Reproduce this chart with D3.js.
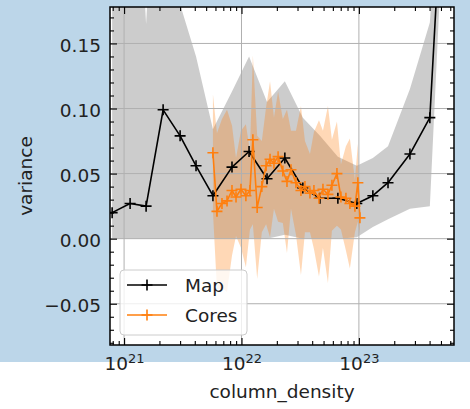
<!DOCTYPE html>
<html>
<head>
<meta charset="utf-8">
<script src="https://cdn.jsdelivr.net/npm/d3@7"></script>
<style>
  html, body { margin: 0; padding: 0; background: #ffffff; }
  svg { display: block; font-family: "DejaVu Sans", sans-serif; }
</style>
</head>
<body>
<svg id="chart" width="470" height="409"></svg>
<script>
// Variance against column density for the whole map and for the cores.
const mapDensity  = [7.91e20, 1.125e21, 1.54e21, 2.15e21, 3.0e21, 4.1e21, 5.71e21, 8.3e21,
                     1.16e22, 1.65e22, 2.34e22, 3.33e22, 4.66e22, 6.62e22, 9.6e22,
                     1.315e23, 1.77e23, 2.72e23, 4.02e23, 5.6e23];
const mapVariance = [0.020, 0.027, 0.025, 0.099, 0.079, 0.056, 0.033, 0.055, 0.067, 0.046,
                     0.062, 0.039, 0.031, 0.031, 0.027, 0.033, 0.043, 0.065, 0.093, 0.33];
const mapUpper    = [0.30, 0.38, 0.165, 0.40, 0.18, 0.14, 0.084, 0.113, 0.140, 0.105,
                     0.121, 0.093, 0.079, 0.063, 0.056, 0.062, 0.071, 0.115, 0.166, 0.36];
const mapLower    = [0, 0, 0, 0, 0, 0, 0, 0, 0, 0,
                     0.003, 0, 0, 0, 0.001, 0.009, 0.015, 0.023, 0.025, 0.30];

const coreDensity  = [5.71e21, 6.18e21, 6.82e21, 7.53e21, 8.30e21, 8.98e21, 9.9e21, 1.09e22,
                      1.18e22, 1.25e22, 1.36e22, 1.49e22, 1.62e22, 1.75e22, 1.89e22, 2.05e22,
                      2.25e22, 2.44e22, 2.64e22, 2.91e22, 3.21e22, 3.47e22, 3.83e22, 4.14e22,
                      4.57e22, 4.94e22, 5.45e22, 5.89e22, 6.50e22, 7.03e22, 7.75e22, 8.38e22,
                      9.25e22, 9.80e22, 1.02e23];
const coreVariance = [0.066, 0.021, 0.027, 0.029, 0.037, 0.032, 0.038, 0.033, 0.037, 0.076,
                      0.024, 0.040, 0.056, 0.061, 0.058, 0.063, 0.052, 0.044, 0.053, 0.043,
                      0.037, 0.040, 0.035, 0.037, 0.031, 0.038, 0.034, 0.041, 0.050, 0.032,
                      0.031, 0.027, 0.025, 0.043, 0.016];
const coreSpread   = [0.045, 0.060, 0.065, 0.070, 0.050, 0.030, 0.045, 0.055, 0.030, 0.065,
                      0.055, 0.035, 0.045, 0.060, 0.035, 0.050, 0.040, 0.055, 0.030, 0.040,
                      0.065, 0.035, 0.030, 0.045, 0.060, 0.045, 0.068, 0.035, 0.040, 0.025,
                      0.040, 0.050, 0.020, 0.030, 0.012];

const yTicks = [-0.05, 0.00, 0.05, 0.10, 0.15];
const yTickLabels = ["\u22120.05", "0.00", "0.05", "0.10", "0.15"];
const xTickExponents = [21, 22, 23];
const seriesNames = ["Map", "Cores"];
const xLabel = "column_density";
const yLabel = "variance";

// ---- layout ----
const W = 470, H = 409;
const L = 110, R = 454, T = 7, B = 345;
const FONT = 18.5;
const BLACK = "#000000", ORANGE = "#ff7f0e";

const svg = d3.select("#chart");

// figure background: tinted panel with a white strip underneath
svg.append("rect").attr("x", 0).attr("y", 0).attr("width", W).attr("height", H).attr("fill", "#ffffff");
svg.append("rect").attr("x", 0).attr("y", 0).attr("width", W).attr("height", 362).attr("fill", "#bcd6e9");
svg.append("rect").attr("x", L).attr("y", T).attr("width", R - L).attr("height", B - T).attr("fill", "#ffffff");

const x = d3.scaleLog().domain([Math.pow(10, 20.88), Math.pow(10, 23.81)]).range([L, R]);
const y = d3.scaleLinear().domain([-0.0817, 0.178]).range([B, T]);

svg.append("defs").append("clipPath").attr("id", "plotclip")
  .append("rect").attr("x", L).attr("y", T).attr("width", R - L).attr("height", B - T);
const plot = svg.append("g").attr("clip-path", "url(#plotclip)");

const mapRows = mapDensity.map((d, i) => ({ x: d, v: mapVariance[i], lo: mapLower[i], hi: mapUpper[i] }));
const coreRows = coreDensity.map((d, i) => ({ x: d, v: coreVariance[i],
  lo: coreVariance[i] - coreSpread[i], hi: coreVariance[i] + coreSpread[i] }));

const band = d3.area().x(d => x(d.x)).y0(d => y(d.lo)).y1(d => y(d.hi));
const line = d3.line().x(d => x(d.x)).y(d => y(d.v));

plot.append("path").datum(mapRows).attr("d", band).attr("fill", "#808080").attr("fill-opacity", 0.4);
plot.append("path").datum(coreRows).attr("d", band).attr("fill", ORANGE).attr("fill-opacity", 0.3);

// grid on major ticks
const majorX = xTickExponents.map(e => Math.pow(10, e));
const grid = plot.append("g").attr("stroke", "#b0b0b0").attr("stroke-width", 1);
majorX.forEach(v => grid.append("line").attr("x1", x(v)).attr("x2", x(v)).attr("y1", T).attr("y2", B));
yTicks.forEach(v => grid.append("line").attr("x1", L).attr("x2", R).attr("y1", y(v)).attr("y2", y(v)));

// series lines with plus markers
const plus = "M-5.5,0H5.5M0,-5.5V5.5";
function drawSeries(rows, color) {
  plot.append("path").datum(rows).attr("d", line).attr("fill", "none")
    .attr("stroke", color).attr("stroke-width", 1.6).attr("stroke-linejoin", "round");
  plot.append("g").selectAll("path").data(rows).join("path")
    .attr("d", plus).attr("transform", d => `translate(${x(d.x)},${y(d.v)})`)
    .attr("fill", "none").attr("stroke", color).attr("stroke-width", 1.6);
}
drawSeries(mapRows, BLACK);
drawSeries(coreRows, ORANGE);

// ---- axes: ticks point inward on all four sides ----
const minorX = [];
for (let e = 20; e <= 23; e++) for (let k = 2; k <= 9; k++) {
  const v = k * Math.pow(10, e);
  if (v > x.domain()[0] && v < x.domain()[1]) minorX.push(v);
}
const minorY = d3.range(-8, 18).map(i => i / 100).filter(v => !yTicks.some(t => Math.abs(t - v) < 1e-9));

function styleAxis(g) {
  g.select(".domain").remove();
  g.selectAll(".tick line").attr("stroke", "#000").attr("stroke-width", 1.1);
}

// x major ticks with labels
const xBottom = svg.append("g").attr("transform", `translate(0,${B})`)
  .call(d3.axisBottom(x).tickValues(majorX).tickSize(-7).tickPadding(12).tickFormat(() => ""))
  .call(styleAxis);
xBottom.selectAll(".tick text").each(function (d) {
  const t = d3.select(this).attr("fill", "#222").attr("font-size", FONT)
    .attr("font-family", "DejaVu Sans, sans-serif").text(null);
  t.append("tspan").text("10");
  t.append("tspan").attr("dy", -7).attr("font-size", 13).text(Math.round(Math.log10(d)));
});
svg.append("g").attr("transform", `translate(0,${B})`)
  .call(d3.axisBottom(x).tickValues(minorX).tickSize(-4).tickFormat(() => "")).call(styleAxis);
svg.append("g").attr("transform", `translate(0,${T})`)
  .call(d3.axisTop(x).tickValues(majorX).tickSize(-7).tickFormat(() => "")).call(styleAxis);
svg.append("g").attr("transform", `translate(0,${T})`)
  .call(d3.axisTop(x).tickValues(minorX).tickSize(-4).tickFormat(() => "")).call(styleAxis);

// y ticks
svg.append("g").attr("transform", `translate(${L},0)`)
  .call(d3.axisLeft(y).tickValues(yTicks).tickSize(-7).tickPadding(9)
    .tickFormat((d, i) => yTickLabels[i]))
  .call(styleAxis)
  .call(g => g.selectAll(".tick text").attr("fill", "#222").attr("font-size", FONT)
    .attr("font-family", "DejaVu Sans, sans-serif").attr("dy", "0.42em"));
svg.append("g").attr("transform", `translate(${L},0)`)
  .call(d3.axisLeft(y).tickValues(minorY).tickSize(-4).tickFormat(() => "")).call(styleAxis);
svg.append("g").attr("transform", `translate(${R},0)`)
  .call(d3.axisRight(y).tickValues(yTicks).tickSize(-7).tickFormat(() => "")).call(styleAxis);
svg.append("g").attr("transform", `translate(${R},0)`)
  .call(d3.axisRight(y).tickValues(minorY).tickSize(-4).tickFormat(() => "")).call(styleAxis);

// spines
svg.append("rect").attr("x", L).attr("y", T).attr("width", R - L).attr("height", B - T)
  .attr("fill", "none").attr("stroke", "#000").attr("stroke-width", 1.5);

// axis labels
svg.append("text").attr("x", (L + R) / 2).attr("y", 398).attr("text-anchor", "middle")
  .attr("font-size", FONT).attr("fill", "#222").text(xLabel);
svg.append("text").attr("transform", `translate(32,${(T + B) / 2}) rotate(-90)`)
  .attr("text-anchor", "middle").attr("font-size", FONT).attr("fill", "#222").text(yLabel);

// legend
const legend = svg.append("g");
legend.append("rect").attr("x", 120).attr("y", 270).attr("width", 127).attr("height", 65).attr("rx", 4)
  .attr("fill", "#ffffff").attr("fill-opacity", 0.8).attr("stroke", "#cccccc").attr("stroke-width", 1);
[BLACK, ORANGE].forEach((c, i) => {
  const cy = 285 + i * 30;
  legend.append("line").attr("x1", 127).attr("x2", 167).attr("y1", cy).attr("y2", cy)
    .attr("stroke", c).attr("stroke-width", 1.6);
  legend.append("path").attr("d", plus).attr("transform", `translate(147,${cy})`)
    .attr("fill", "none").attr("stroke", c).attr("stroke-width", 1.6);
  legend.append("text").attr("x", 185).attr("y", cy + 6.5).attr("font-size", FONT)
    .attr("fill", "#222").text(seriesNames[i]);
});
</script>
</body>
</html>
